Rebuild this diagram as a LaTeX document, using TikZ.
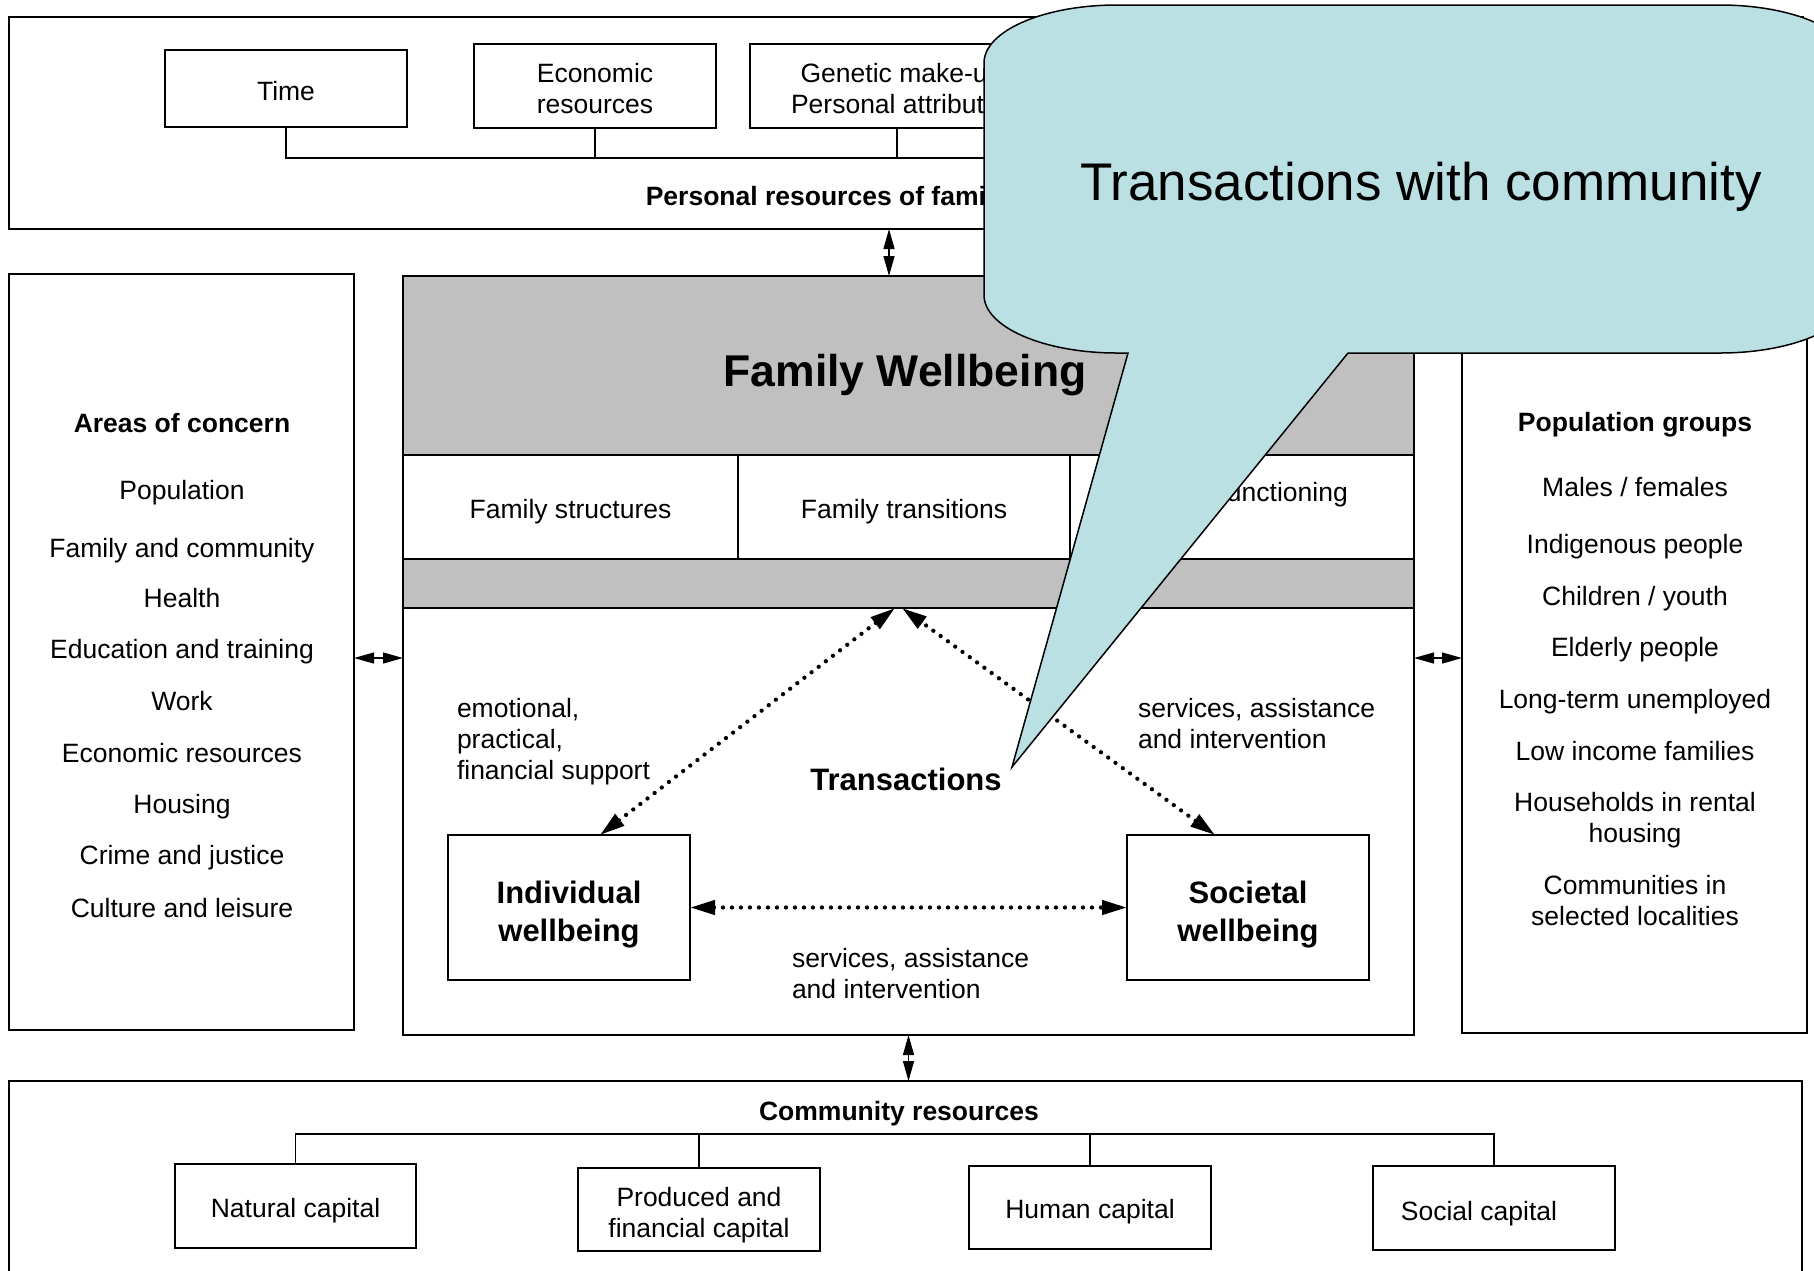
\documentclass[tikz,border=0pt]{standalone}
\usepackage{fontspec}
\setmainfont{Liberation Sans}
\usetikzlibrary{arrows.meta,calc}
\definecolor{calloutblue}{RGB}{186,224,228}
\definecolor{panelgray}{RGB}{192,192,192}
\newcommand\fsN{\fontsize{26.5}{31}\selectfont}
\newcommand\fsB{\fontsize{26.5}{31}\selectfont\bfseries}
\newcommand\fsL{\fontsize{31}{38}\selectfont\bfseries}
\newcommand\fsH{\fontsize{44.5}{50}\selectfont\bfseries}
\newcommand\fsC{\fontsize{53}{60}\selectfont}
\begin{document}
\begin{tikzpicture}[x=1pt,y=-1pt,
  every node/.style={inner sep=0pt, outer sep=0pt, font=\fsN, align=center},
  boxed/.style={draw=black, line width=1.8pt, fill=white},
  grayband/.style={draw=black, line width=1.8pt, fill=panelgray},
  bold/.style={font=\fsB},
  conn/.style={draw=black, line width=1.5pt},
  dbl/.style={draw=black, line width=1.2pt, {Triangle[length=20pt,width=11pt]}-{Triangle[length=20pt,width=11pt]}},
  dotarrow/.style={draw=black, line width=4.3pt, dash pattern=on 0pt off 9pt, line cap=round,
     {Triangle[length=25pt,width=14pt]}-{Triangle[length=25pt,width=14pt]}}
]
\path[use as bounding box] (0,0) rectangle (1814,1270);
\clip (0,0) rectangle (1814,1270);
\fill[white] (0,0) rectangle (1814,1270);

% ---------- top: personal resources ----------
\node[boxed, minimum width=1794pt, minimum height=212pt] (personal) at (906,123) {};
\node[boxed, minimum width=242pt, minimum height=77pt] (time) at (286,88.5) {};
\node (timet) at (286,91) {Time};
\node[boxed, minimum width=242pt, minimum height=84pt] (econ) at (595,86) {};
\node (econt) at (595,89) {Economic\\resources};
\node[boxed, minimum width=294pt, minimum height=84pt] (gen) at (897,86) {};
\node (gent) at (901.5,88.5) {Genetic make-up\\Personal attributes};
\coordinate (tbus) at (0,158);
\coordinate (tbusend) at (1100,158);
\draw[conn] (time.south) -- (time.south |- tbus) -- (tbusend);
\draw[conn] (econ.south) -- (econ.south |- tbus);
\draw[conn] (gen.south) -- (gen.south |- tbus);
\node[bold] (perstitle) at (838,196.5) {Personal resources of families};

% ---------- family wellbeing ----------
\node[boxed, minimum width=1011pt, minimum height=759pt] (fw) at (908.5,655.5) {};
\node[grayband, minimum width=1011pt, minimum height=179pt] (hdr) at (908.5,365.5) {};
\node[font=\fsH] (fwtitle) at (905,375.5) {Family Wellbeing};
\node[boxed, minimum width=335pt, minimum height=104pt] (c1) at (570.5,507) {};
\node (c1t) at (570.5,511.5) {Family structures};
\node[boxed, minimum width=332pt, minimum height=104pt] (c2) at (904,507) {};
\node (c2t) at (904,511.5) {Family transitions};
\node[boxed, minimum width=344pt, minimum height=104pt] (c3) at (1242,507) {};
\node (c3t) at (1241,494.5) {Family functioning};
\node[grayband, minimum width=1011pt, minimum height=49pt] (band) at (908.5,583.5) {};

\node[boxed, minimum width=242pt, minimum height=145pt] (ind) at (569,907.5) {};
\node[font=\fsL] (indt) at (569,914.5) {Individual\\wellbeing};
\node[boxed, minimum width=242pt, minimum height=145pt] (soc2) at (1248,907.5) {};
\node[font=\fsL] (soc2t) at (1248,914.5) {Societal\\wellbeing};
\coordinate (apexL) at (895,608);
\coordinate (apexR) at (902,608);
\draw[dotarrow] ($(ind.north)+(31,0)$) -- (apexL);
\draw[dotarrow] ($(soc2.north)+(-33,0)$) -- (apexR);
\draw[dotarrow] (ind.east) -- (soc2.west);
\node[anchor=west, align=left] (lblL) at (457,741.5) {emotional,\\practical,\\financial support};
\node[anchor=west, align=left] (lblR) at (1138,723.5) {services, assistance\\and intervention};
\node[anchor=west, align=left] (lblB) at (792,973.5) {services, assistance\\and intervention};
\node[font=\fsL] (trans) at (906,779) {Transactions};

% ---------- left: areas of concern ----------
\node[boxed, minimum width=345pt, minimum height=756pt] (left) at (181.5,652) {};
\node[bold] (aoc) at (182,423) {Areas of concern};
\node (a1) at (182,493) {Population};
\node (a2) at (182,550.5) {Family and community};
\node (a3) at (182,598) {Health};
\node (a4) at (182,652) {Education and training};
\node (a5) at (182,701) {Work};
\node (a6) at (182,753) {Economic resources};
\node (a7) at (182,807) {Housing};
\node (a8) at (182,858) {Crime and justice};
\node (a9) at (182,908) {Culture and leisure};

% ---------- right: population groups ----------
\node[boxed, minimum width=345pt, minimum height=759pt] (right) at (1634.5,653.5) {};
\node[bold] (pg) at (1635,424.5) {Population groups};
\node (p1) at (1635,487) {Males / females};
\node (p2) at (1635,546.5) {Indigenous people};
\node (p3) at (1635,598.5) {Children / youth};
\node (p4) at (1635,649.5) {Elderly people};
\node (p5) at (1635,701.5) {Long-term unemployed};
\node (p6) at (1635,751) {Low income families};
\node (p7) at (1635,820.5) {Households in rental\\housing};
\node (p8) at (1635,900.5) {Communities in\\selected localities};

% ---------- bottom: community resources ----------
\node[boxed, minimum width=1793pt, minimum height=240pt] (comm) at (905.5,1201) {};
\node[bold] (commtitle) at (899,1113.5) {Community resources};
\node[boxed, minimum width=241pt, minimum height=84pt] (nat) at (295.5,1206) {};
\node (natt) at (295.5,1210.5) {Natural capital};
\node[boxed, minimum width=242pt, minimum height=83pt] (prod) at (699,1209.5) {};
\node (prodt) at (699,1215.5) {Produced and\\financial capital};
\node[boxed, minimum width=242pt, minimum height=83pt] (hum) at (1090,1207.5) {};
\node (humt) at (1090,1212) {Human capital};
\node[boxed, minimum width=242pt, minimum height=84pt] (soc) at (1494,1208) {};
\node (soct) at (1479,1213.5) {Social capital};
\coordinate (cbus) at (0,1134);
\draw[conn] (nat.north) -- (nat.north |- cbus) -- (soc.north |- cbus) -- (soc.north);
\draw[conn] (prod.north) -- (prod.north |- cbus);
\draw[conn] (hum.north) -- (hum.north |- cbus);

% ---------- connectors between panels ----------
\coordinate (ax) at (889,0);
\coordinate (ly) at (0,658);
\draw[dbl] (personal.south -| ax) -- (fw.north -| ax);
\draw[dbl] (left.east |- ly) -- (fw.west |- ly);
\draw[dbl] (fw.east |- ly) -- (right.west |- ly);
\draw[dbl] (fw.south) -- (comm.north -| fw.south);

% ---------- callout ----------
\draw[fill=calloutblue, draw=black, line width=1.5pt, line join=miter]
  (1117,5) -- (1720,5) .. controls (1793.5,5) and (1853,31) .. (1853,63)
  -- (1853,295) .. controls (1853,327) and (1793.5,353) .. (1720,353)
  -- (1348,353) -- (1012,767) -- (1128,353) -- (1117,353)
  .. controls (1043.5,353) and (984,327) .. (984,295)
  -- (984,63) .. controls (984,31) and (1043.5,5) .. (1117,5) -- cycle;
\node[font=\fsC] (callout) at (1421,186.5) {Transactions with community};
\end{tikzpicture}
\end{document}
